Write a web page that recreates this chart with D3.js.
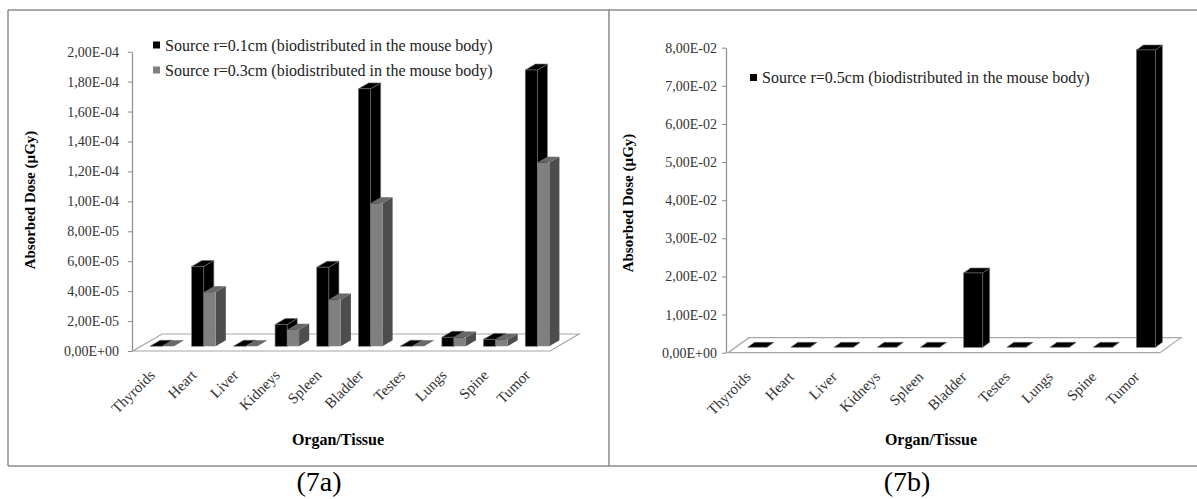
<!DOCTYPE html>
<meta charset="utf-8">
<html>
<head>
<script src="https://d3js.org/d3.v7.min.js"></script>
<style>
  body { margin: 0; background: #fff; }
  text { font-family: "Liberation Serif", "Times New Roman", serif; }
</style>
</head>
<body>
<svg width="1197" height="499"></svg>
<script>

// organs on the x axis (same for both panels)
var organs = ["Thyroids", "Heart", "Liver", "Kidneys", "Spleen", "Bladder", "Testes", "Lungs", "Spine", "Tumor"];

// absorbed dose (µGy)
var doseR01 = [0, 5.33e-5, 0, 1.45e-5, 5.28e-5, 1.72e-4, 0, 6.0e-6, 4.6e-6, 1.846e-4];
var doseR03 = [0, 3.61e-5, 0, 1.1e-5, 3.12e-5, 9.55e-5, 0, 5.8e-6, 4.4e-6, 1.227e-4];
var doseR05 = [0, 0, 0, 0, 0, 1.95e-2, 0, 0, 0, 7.8e-2];

var legendA = ["Source r=0.1cm (biodistributed in the mouse body)",
               "Source r=0.3cm (biodistributed in the mouse body)"];
var legendB = ["Source r=0.5cm (biodistributed in the mouse body)"];

var captions = ["(7a)", "(7b)"];

var svg = d3.select("svg");

// frame lines
var frame = svg.append("g").attr("stroke", "#8c8c8c").attr("stroke-width", 1.5);
frame.append("line").attr("x1", 8).attr("x2", 1197).attr("y1", 10).attr("y2", 10);
frame.append("line").attr("x1", 8).attr("x2", 1197).attr("y1", 466).attr("y2", 466);
frame.append("line").attr("x1", 8).attr("x2", 8).attr("y1", 10).attr("y2", 466);
frame.append("line").attr("x1", 609).attr("x2", 609).attr("y1", 10).attr("y2", 466);

// black series and grey series face colours: front, top, side
var styles = [
  {front: "#000", top: "#000", side: "#000", stroke: "#6e6e6e"},
  {front: "#808080", top: "#686868", side: "#4d4d4d", stroke: "none"}
];

function fmt(v) {
  var s = v.toExponential(2).split("e");
  var e = +s[1];
  return s[0].replace(".", ",") + "E" + (e < 0 ? "-" : "+") + d3.format("02")(Math.abs(e));
}

function drawPanel(p) {
  var g = svg.append("g");

  var y = d3.scaleLinear().domain(p.domain).range([p.y0, p.yTop]);
  var x = d3.scaleBand().domain(organs).range([p.floorL, p.floorR])
      .paddingInner(p.pad).paddingOuter(p.pad / 2);
  var xs = d3.scaleBand().domain(d3.range(p.series.length)).range([0, x.bandwidth()]);

  var dx = p.depth[0], dy = p.depth[1];

  // floor
  g.append("polygon")
      .attr("points", [[p.floorL, p.y0], [p.floorR, p.y0], [p.floorR + dx, p.y0 + dy], [p.floorL + dx, p.y0 + dy]].join(" "))
      .attr("fill", "#fff")
      .attr("stroke", "#a6a6a6")
      .attr("stroke-width", 1.2);

  // y axis
  var ax = g.append("g")
      .attr("transform", "translate(" + p.axisX + ",0)")
      .call(d3.axisLeft(y).ticks(p.ticks).tickFormat(fmt).tickSize(4).tickSizeOuter(0).tickPadding(p.tickPad));
  ax.select(".domain").attr("stroke", "#8c8c8c").attr("stroke-width", 1.2);
  ax.selectAll(".tick line").attr("stroke", "#8c8c8c");
  ax.selectAll(".tick text")
      .attr("fill", "#333")
      .style("font-size", "14px")
      .style("font-family", "Liberation Serif");

  // bars (left to right so each bar covers its neighbour's side)
  var bdx = p.barDepth * dx, bdy = p.barDepth * dy;
  var fx = p.barFront * dx, fy = p.barFront * dy;
  var bw = xs.bandwidth();
  organs.forEach(function(o) {
    p.series.forEach(function(vals, j) {
      var v = vals[organs.indexOf(o)];
      var st = styles[j];
      var x0 = x(o) + xs(j) + fx, x1 = x0 + bw;
      var yb = p.y0 + fy, yt = y(v) + fy;
      // side
      g.append("polygon")
          .attr("points", [[x1, yb], [x1, yt], [x1 + bdx, yt + bdy], [x1 + bdx, yb + bdy]].join(" "))
          .attr("fill", st.side).attr("stroke", st.stroke).attr("stroke-width", 0.6);
      // top
      g.append("polygon")
          .attr("points", [[x0, yt], [x1, yt], [x1 + bdx, yt + bdy], [x0 + bdx, yt + bdy]].join(" "))
          .attr("fill", st.top).attr("stroke", st.stroke).attr("stroke-width", 0.6);
      // front
      g.append("rect")
          .attr("x", x0).attr("y", yt)
          .attr("width", bw).attr("height", yb - yt)
          .attr("fill", st.front).attr("stroke", st.stroke).attr("stroke-width", 0.6);
    });
  });

  // category labels
  g.append("g").selectAll("text")
    .data(organs)
    .enter().append("text")
      .attr("transform", function(d) {
        return "translate(" + (x(d) + x.bandwidth() / 2 + 2) + "," + (p.y0 + 25) + ") rotate(-45)";
      })
      .attr("text-anchor", "end")
      .attr("fill", "#333")
      .style("font-size", "15px")
      .text(function(d) { return d; });

  // legend
  var lg = g.append("g");
  p.legend.forEach(function(t, j) {
    var ly = p.legendY + j * 25;
    lg.append("rect")
        .attr("x", p.legendX).attr("y", ly - 3.5)
        .attr("width", 7).attr("height", 7)
        .attr("fill", styles[j].front);
    lg.append("text")
        .attr("x", p.legendX + 12).attr("y", ly + 5.5)
        .attr("fill", "#222")
        .style("font-size", "16px")
        .text(t);
  });

  // axis titles
  g.append("text")
      .attr("transform", "translate(" + p.titleYX + "," + p.titleYY + ") rotate(-90)")
      .attr("text-anchor", "middle")
      .style("font-size", "15px")
      .style("font-weight", "bold")
      .text("Absorbed Dose (µGy)");

  g.append("text")
      .attr("x", p.titleXX).attr("y", 445)
      .attr("text-anchor", "middle")
      .style("font-size", "16px")
      .style("font-weight", "bold")
      .text("Organ/Tissue");

  // caption below the frame
  svg.append("text")
      .attr("x", p.captionX).attr("y", 491)
      .attr("text-anchor", "middle")
      .style("font-size", "28px")
      .text(p.caption);
}

drawPanel({
  series: [doseR01, doseR03], legend: legendA, caption: captions[0],
  domain: [0, 2e-4], ticks: 10, y0: 351, yTop: 51.7,
  axisX: 132, tickPad: 9, floorL: 133, floorR: 550,
  depth: [29, -17], barFront: 0.28, barDepth: 0.35, pad: 0.425,
  legendX: 153, legendY: 45,
  titleYX: 35, titleYY: 200, titleXX: 338, captionX: 319
});

drawPanel({
  series: [doseR05], legend: legendB, caption: captions[1],
  domain: [0, 0.08], ticks: 8, y0: 352.7, yTop: 47.7,
  axisX: 726, tickPad: 5, floorL: 728, floorR: 1160,
  depth: [21, -15], barFront: 0.36, barDepth: 0.33, pad: 0.56,
  legendX: 750, legendY: 77.5,
  titleYX: 633, titleYY: 203, titleXX: 931, captionX: 907
});

</script>
</body>
</html>
